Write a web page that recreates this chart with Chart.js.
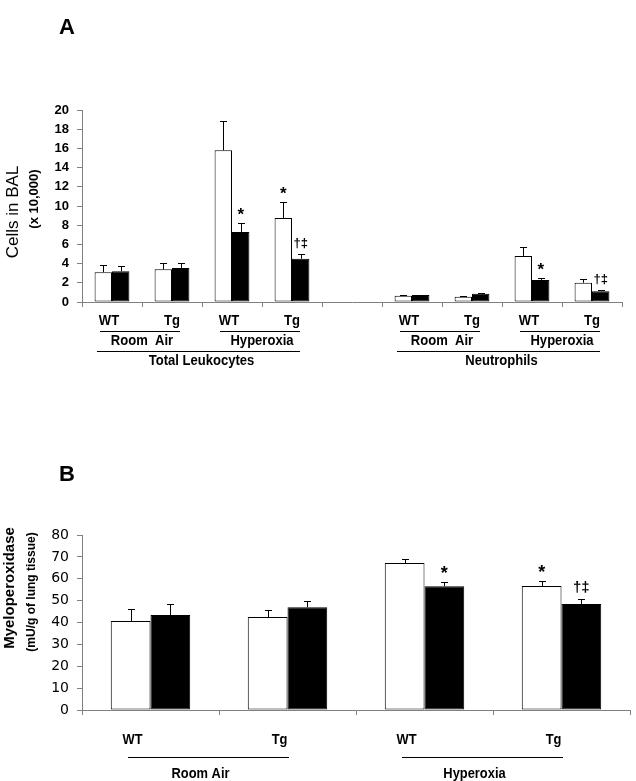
<!DOCTYPE html>
<html>
<head>
<meta charset="utf-8">
<script src="https://cdn.jsdelivr.net/npm/chart.js@4.4.0/dist/chart.umd.min.js"></script>
<style>
    body { margin: 0; background: #fff; width: 636px; height: 781px; overflow: hidden; position: relative; }
    .panel { position: absolute; left: 0; width: 636px; }
    #wrapA { top: 0; height: 385px; }
    #wrapB { top: 385px; height: 396px; }
</style>
</head>
<body>
<div class="panel" id="wrapA"><canvas id="chartA" width="636" height="385"></canvas></div>
<div class="panel" id="wrapB"><canvas id="chartB" width="636" height="396"></canvas></div>
<script>
// Panel A - cells in BAL (x 10,000)
const genotypeA = ['WT', 'Tg', 'WT', 'Tg', '', 'WT', 'Tg', 'WT', 'Tg'];
const exposureA = ['Room  Air', 'Room  Air', 'Hyperoxia', 'Hyperoxia', '', 'Room  Air', 'Room  Air', 'Hyperoxia', 'Hyperoxia'];
const cellTypeA = ['Total Leukocytes', 'Total Leukocytes', 'Total Leukocytes', 'Total Leukocytes', '', 'Neutrophils', 'Neutrophils', 'Neutrophils', 'Neutrophils'];
const whiteA = [3.1, 3.4, 15.8, 8.75, null, 0.65, 0.55, 4.8, 2.0];
const whiteErrA = [0.75, 0.7, 3.1, 1.65, null, 0.1, 0.1, 0.95, 0.4];
const blackA = [3.2, 3.55, 7.3, 4.5, null, 0.72, 0.85, 2.3, 1.12];
const blackErrA = [0.5, 0.55, 0.9, 0.5, null, 0.05, 0.05, 0.2, 0.13];
const whiteMarkA = ['', '', '', '*', '', '', '', '', ''];
const blackMarkA = ['', '', '*', '†‡', '', '', '', '*', '†‡'];

// Panel B - myeloperoxidase (mU/g of lung tissue)
const genotypeB = ['WT', 'Tg', 'WT', 'Tg'];
const exposureB = ['Room Air', 'Room Air', 'Hyperoxia', 'Hyperoxia'];
const whiteB = [40.7, 42.5, 67.2, 56.7];
const whiteErrB = [5.3, 3.0, 1.8, 2.3];
const blackB = [43.4, 47.0, 56.6, 48.5];
const blackErrB = [5.1, 3.0, 1.9, 2.2];
const whiteMarkB = ['', '', '', '*'];
const blackMarkB = ['', '', '*', '†‡'];

const axisGray = '#808080';
const arial = "'Liberation Sans', Arial, sans-serif";

// error bars (upwards only) and significance marks
const errorBarPlugin = {
    id: 'errorBars',
    afterDatasetsDraw(chart, args, opts) {
        const ctx = chart.ctx;
        const yScale = chart.scales.y;
        ctx.save();
        chart.data.datasets.forEach((ds, i) => {
            const meta = chart.getDatasetMeta(i);
            meta.data.forEach((bar, j) => {
                const v = ds.data[j];
                if (v == null) return;
                const top = yScale.getPixelForValue(v + ds.err[j]);
                ctx.strokeStyle = '#000';
                ctx.lineWidth = 1;
                ctx.beginPath();
                ctx.moveTo(Math.round(bar.x) + 0.5, bar.y);
                ctx.lineTo(Math.round(bar.x) + 0.5, Math.round(top) + 0.5);
                ctx.moveTo(Math.round(bar.x - opts.cap / 2), Math.round(top) + 0.5);
                ctx.lineTo(Math.round(bar.x + opts.cap / 2) + 1, Math.round(top) + 0.5);
                ctx.stroke();
                const mark = ds.marks[j];
                if (mark) {
                    ctx.fillStyle = '#000';
                    ctx.textAlign = 'center';
                    ctx.textBaseline = 'alphabetic';
                    if (mark == '*') {
                        ctx.font = opts.starFont;
                        ctx.fillText(mark, bar.x, top - 3);
                    } else {
                        ctx.font = opts.daggerFont;
                        ctx.fillText(mark, bar.x, top - 7);
                    }
                }
            });
        });
        ctx.restore();
    }
};

// genotype labels, exposure groups and cell type groups under the x axis
function runsOf(arr) {
    const runs = [];
    arr.forEach((v, i) => {
        if (!v) return;
        const last = runs[runs.length - 1];
        if (last && last.label == v && last.to == i - 1) last.to = i;
        else runs.push({ label: v, from: i, to: i });
    });
    return runs;
}

// condensed bold text, like the narrow font of the original figure
function narrowText(ctx, text, x, y, squeeze) {
    ctx.save();
    ctx.translate(x, y);
    ctx.scale(squeeze, 1);
    ctx.fillText(text, 0, 0);
    ctx.restore();
}

const groupLabelPlugin = {
    id: 'groupLabels',
    afterDraw(chart, args, opts) {
        const ctx = chart.ctx;
        const x = chart.scales.x;
        ctx.save();
        ctx.fillStyle = '#000';
        ctx.strokeStyle = '#000';
        ctx.lineWidth = 1;
        ctx.textAlign = 'center';
        ctx.textBaseline = 'middle';
        ctx.font = opts.font;
        const labelX = i => x.getPixelForValue(i) + (opts.labelShift[opts.genotype[i]] || 0);
        opts.genotype.forEach((g, i) => {
            if (g) narrowText(ctx, g, labelX(i), opts.labelY, opts.squeeze);
        });
        const spans = [];
        runsOf(opts.exposure).forEach(r => {
            const x1 = Math.round(labelX(r.from) + opts.lineStart);
            const x2 = Math.round(labelX(r.to) + opts.lineEnd);
            spans.push({ from: r.from, to: r.to, x1, x2 });
            ctx.beginPath();
            ctx.moveTo(x1, opts.lineY + 0.5);
            ctx.lineTo(x2, opts.lineY + 0.5);
            ctx.stroke();
            narrowText(ctx, r.label, (x1 + x2) / 2 + opts.textShift, opts.textY, opts.squeeze);
        });
        if (opts.cellType) {
            runsOf(opts.cellType).forEach(r => {
                const inside = spans.filter(s => s.from >= r.from && s.to <= r.to);
                const x1 = Math.min(...inside.map(s => s.x1)) - 3;
                const x2 = Math.max(...inside.map(s => s.x2));
                ctx.beginPath();
                ctx.moveTo(x1, opts.line2Y + 0.5);
                ctx.lineTo(x2, opts.line2Y + 0.5);
                ctx.stroke();
                narrowText(ctx, r.label, (x1 + x2) / 2 + 3, opts.text2Y, opts.squeeze);
            });
        }
        ctx.restore();
    }
};

// panel letter and y axis titles
const sideTextPlugin = {
    id: 'sideTexts',
    afterDraw(chart, args, opts) {
        const ctx = chart.ctx;
        ctx.save();
        ctx.fillStyle = '#000';
        ctx.textAlign = 'center';
        ctx.textBaseline = 'middle';
        opts.items.forEach(it => {
            ctx.save();
            ctx.translate(it.x, it.y);
            if (it.rotate) ctx.rotate(-Math.PI / 2);
            ctx.font = it.font;
            ctx.fillText(it.text, 0, 0);
            ctx.restore();
        });
        ctx.restore();
    }
};

function makeChart(canvasId, cfg) {
    return new Chart(document.getElementById(canvasId), {
        type: 'bar',
        data: {
            labels: cfg.labels,
            datasets: [{
                label: 'Open bars',
                data: cfg.white,
                err: cfg.whiteErr,
                marks: cfg.whiteMarks,
                backgroundColor: '#ffffff',
                borderColor: '#000000',
                borderWidth: 1,
                borderSkipped: false
            }, {
                label: 'Filled bars',
                data: cfg.black,
                err: cfg.blackErr,
                marks: cfg.blackMarks,
                backgroundColor: '#000000',
                borderColor: '#000000',
                borderWidth: 1,
                borderSkipped: false
            }]
        },
        options: {
            responsive: false,
            animation: false,
            categoryPercentage: 0.58,
            barPercentage: 1.0,
            layout: { padding: cfg.padding },
            scales: {
                x: {
                    ticks: { display: false },
                    grid: { drawOnChartArea: false, tickLength: 5, color: axisGray, offset: true },
                    border: { color: axisGray },
                    afterFit: s => { s.height = cfg.xHeight; }
                },
                y: {
                    min: 0,
                    max: cfg.max,
                    ticks: { stepSize: cfg.step, color: '#000', font: cfg.tickFont, padding: 8 },
                    grid: { drawOnChartArea: false, tickLength: 5, color: axisGray },
                    border: { color: axisGray },
                    afterFit: s => { s.width = 82; }
                }
            },
            plugins: {
                legend: { display: false },
                tooltip: { enabled: false },
                errorBars: cfg.errorBars,
                groupLabels: cfg.groupLabels,
                sideTexts: { items: cfg.sideTexts }
            }
        },
        plugins: [errorBarPlugin, groupLabelPlugin, sideTextPlugin]
    });
}

makeChart('chartA', {
    labels: genotypeA,
    white: whiteA, whiteErr: whiteErrA, whiteMarks: whiteMarkA,
    black: blackA, blackErr: blackErrA, blackMarks: blackMarkA,
    max: 20, step: 2,
    padding: { top: 110, left: 0, right: 14, bottom: 0 },
    xHeight: 83,
    tickFont: { family: arial, size: 13, weight: 'bold' },
    errorBars: { cap: 6, starFont: 'bold 17px ' + arial, daggerFont: 'bold 13px ' + arial },
    groupLabels: {
        font: 'bold 15px ' + arial, squeeze: 0.87,
        genotype: genotypeA, exposure: exposureA, cellType: cellTypeA,
        labelShift: { WT: -3, Tg: 0 }, labelY: 321,
        lineStart: -9, lineEnd: 8, lineY: 331, textShift: 2, textY: 341,
        line2Y: 351, text2Y: 361
    },
    sideTexts: [
        { text: 'A', x: 67, y: 28, font: 'bold 22px ' + arial },
        { text: 'Cells in BAL', x: 13, y: 212, rotate: true, font: '17px ' + arial },
        { text: '(x 10,000)', x: 34, y: 199, rotate: true, font: 'bold 13px ' + arial }
    ]
});

makeChart('chartB', {
    labels: genotypeB,
    white: whiteB, whiteErr: whiteErrB, whiteMarks: whiteMarkB,
    black: blackB, blackErr: blackErrB, blackMarks: blackMarkB,
    max: 80, step: 10,
    padding: { top: 150, left: 0, right: 6, bottom: 0 },
    xHeight: 71,
    tickFont: { family: "'DejaVu Sans', sans-serif", size: 14 },
    errorBars: { cap: 6, starFont: 'bold 18px ' + arial, daggerFont: 'bold 15px ' + arial },
    groupLabels: {
        font: 'bold 14px ' + arial, squeeze: 0.92,
        genotype: genotypeB, exposure: exposureB,
        labelShift: { WT: -18, Tg: -8 }, labelY: 355,
        lineStart: -5, lineEnd: 9, lineY: 372, textShift: -8, textY: 389
    },
    sideTexts: [
        { text: 'B', x: 67, y: 90, font: 'bold 22px ' + arial },
        { text: 'Myeloperoxidase', x: 10, y: 203, rotate: true, font: 'bold 15px ' + arial },
        { text: '(mU/g of lung tissue)', x: 32, y: 207, rotate: true, font: 'bold 12px ' + arial }
    ]
});
</script>
</body>
</html>
